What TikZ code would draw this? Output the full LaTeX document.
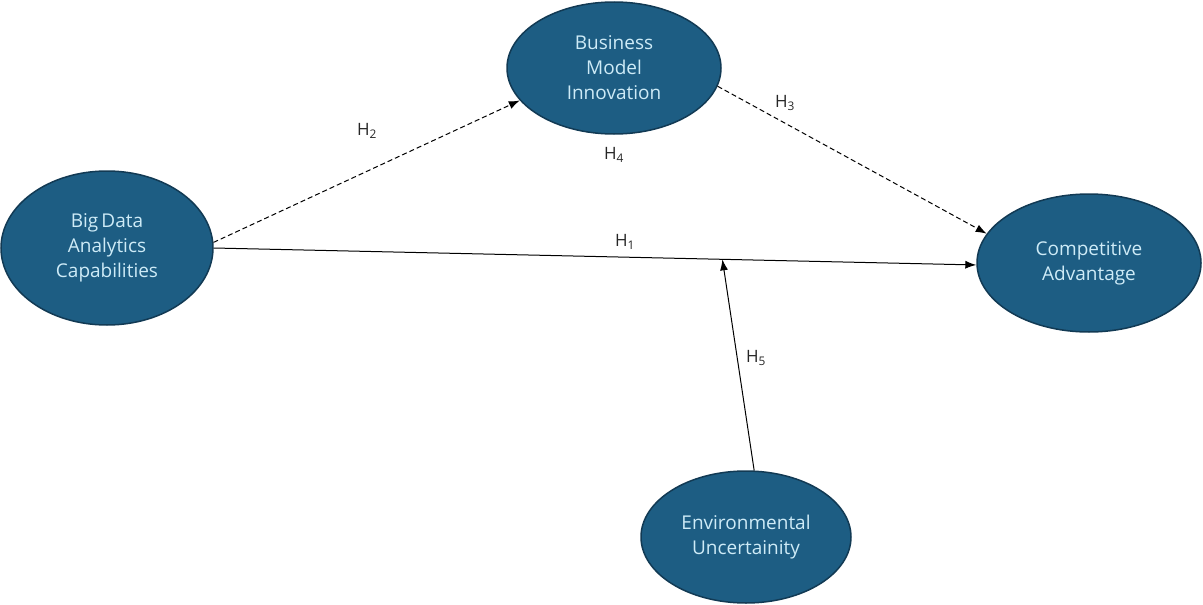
\documentclass[tikz,border=0pt]{standalone}
\usepackage{fontspec}
\setmainfont{Open Sans}
\usepackage{tikz}
\usetikzlibrary{shapes.geometric, arrows.meta, calc}
\definecolor{constructfill}{RGB}{29,93,131}
\definecolor{constructline}{RGB}{18,58,84}
\definecolor{constructtext}{RGB}{206,235,247}
\tikzset{
	construct/.style={
		ellipse,
		draw=constructline,
		line width=1.5pt,
		fill=constructfill,
		text=constructtext,
		align=center,
		inner sep=0pt,
		font=\fontsize{19}{25}\selectfont
	},
	hyp/.style={
		font=\fontsize{17}{20}\selectfont,
		text=black!85
	}
}

\begin{document}
\begin{tikzpicture}[x=1pt, y=-1pt]
		\useasboundingbox (0,0) rectangle (1203,605);
		
		% constructs
		\node[construct, minimum width=212pt, minimum height=154pt] (bda) at (107,248) {Big\,Data\\Analytics\\Capabilities};
		\node[construct, minimum width=214pt, minimum height=132pt] (bmi) at (614,68) {Business\\Model\\Innovation};
		\node[construct, minimum width=224pt, minimum height=138pt] (ca) at (1089,263) {Competitive\\Advantage};
		\node[construct, minimum width=210pt, minimum height=132pt] (eu) at (746,537) {Environmental\\Uncertainity};
		
		% hypothesised paths
		\begin{scope}[line width=1pt, black, -{Latex[length=11pt,width=8pt]}]
		\draw[dash pattern=on 5pt off 3pt] (bda.3) -- (bmi.199);
		\draw[dash pattern=on 5pt off 3pt] (bmi.350) -- (ca.164);
		\draw (bda.east) -- (ca.181) coordinate[pos=0.667] (mod);
		\draw (eu.83) -- (mod);
		\end{scope}
		
		% hypothesis labels
		\begin{scope}[every node/.style={hyp}]
		\node (h1) at (625,242) {H\textsubscript{1}};
		\node (h2) at (367,131) {H\textsubscript{2}};
		\node (h3) at (785,103) {H\textsubscript{3}};
		\node (h4) at (614,155) {H\textsubscript{4}};
		\node (h5) at (756,358) {H\textsubscript{5}};
		\end{scope}
		\end{tikzpicture}
\end{document}
